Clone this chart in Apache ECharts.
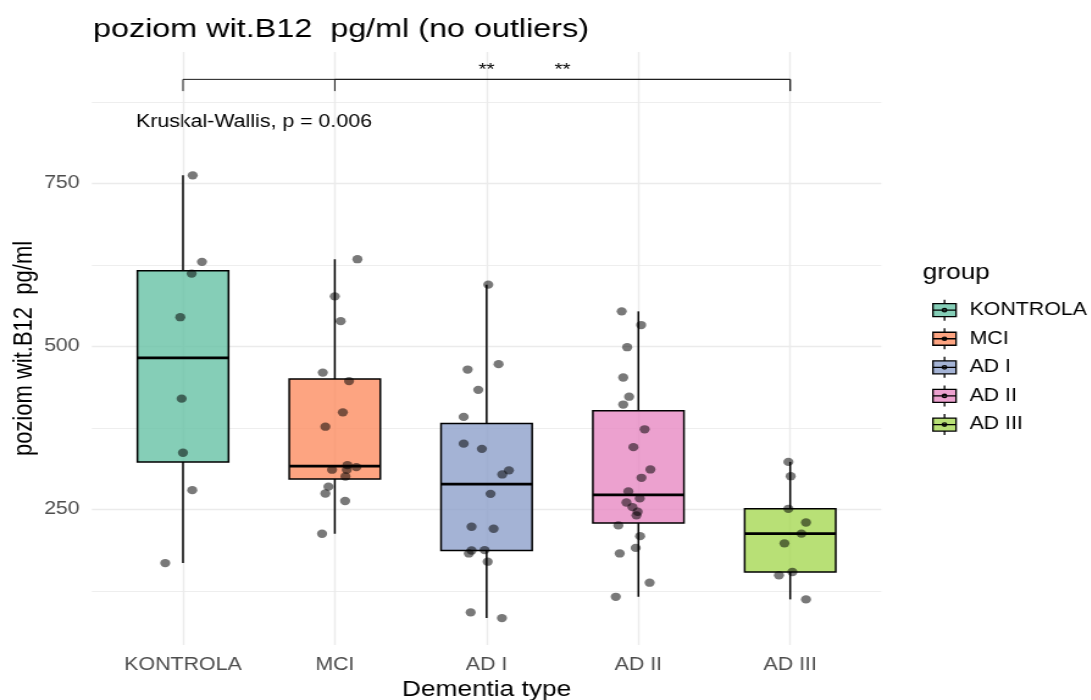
<!DOCTYPE html>
<html>
<head>
<meta charset="utf-8">
<script src="https://cdn.jsdelivr.net/npm/echarts@6/dist/echarts.min.js"></script>
<style>
  html, body { margin: 0; padding: 0; background: #fff; overflow: hidden; }
  #stage { width: 1091px; height: 700px; overflow: hidden; }
  #chart { height: 700px; transform-origin: 0 0; }
</style>
</head>
<body>
<div id="stage"><div id="chart"></div></div>
<script>
// ---- data -------------------------------------------------------------
const categories = ['KONTROLA', 'MCI', 'AD I', 'AD II', 'AD III'];
const groupColors = ['#66C2A5', '#FC8D62', '#8DA0CB', '#E78AC3', '#A6D854'];

// vitamin B12 levels (pg/ml) per group, with the horizontal jitter of each dot
const kontrolaValues = [762.7, 630, 612, 545, 420, 337, 279.6, 167.7];
const kontrolaJitter = [0.064, 0.125, 0.057, -0.018, -0.009, 0, 0.061, -0.117];

const mciValues = [634, 577, 539, 460, 447, 399, 377, 318, 315, 311, 311, 300.6, 285, 274.5, 263, 212.7];
const mciJitter = [0.149, 0, 0.039, -0.079, 0.094, 0.053, -0.062, 0.083, 0.142, -0.018, 0.079, 0.07, -0.042, -0.062, 0.068, -0.084];

const ad1Values = [595, 473, 464.7, 433.6, 392, 351, 343, 310, 303.7, 274, 223.5, 220.4, 187, 182.5, 187.6, 169.8, 92, 83.3];
const ad1Jitter = [0.011, 0.079, -0.125, -0.055, -0.151, -0.151, -0.031, 0.147, 0.103, 0.026, -0.099, 0.046, -0.099, -0.117, -0.013, 0.007, -0.105, 0.101];

const ad2Values = [554, 533, 499, 452.5, 423, 411, 373, 345.6, 311.4, 298.6, 277.6, 267, 260.7, 253.5, 246.5, 241, 225.5, 209, 191, 182.5, 137.6, 116];
const ad2Jitter = [-0.11, 0.018, -0.074, -0.1, -0.061, -0.1, 0.041, -0.033, 0.079, 0.02, -0.066, 0.009, -0.079, -0.039, -0.005, -0.013, -0.132, 0.011, -0.018, -0.123, 0.074, -0.149];

const ad3Values = [323, 301, 251, 230, 213, 198, 154, 149, 112];
const ad3Jitter = [-0.012, 0.003, -0.012, 0.104, 0.074, -0.038, 0.014, -0.074, 0.104];

const groupValues = [kontrolaValues, mciValues, ad1Values, ad2Values, ad3Values];
const groupJitter = [kontrolaJitter, mciJitter, ad1Jitter, ad2Jitter, ad3Jitter];

// y-axis ticks and gridlines
const yTickValues = [250, 500, 750];
const yMinorValues = [125, 375, 625, 875];

// pairwise comparisons drawn as brackets, and the global test
const comparisons = [['KONTROLA', 'AD III'], ['MCI', 'AD III']];
const comparisonLabels = ['**', '**'];
const kruskalLabel = 'Kruskal-Wallis, p = 0.006';
const BRACKET_Y = 910;

// ---- layout -------------------------------------------------------------
const STRETCH = 1.22;                 // figure is drawn narrow, then widened
const CW = 1091 / STRETCH;
const sx = v => v / STRETCH;          // horizontal page px -> drawing px
const FONT = '"Liberation Sans", Arial, Helvetica, sans-serif';
const BOX_HALF = 0.3;
const LW = 1.5;
const BRACKET_DROP = 18;

const el = document.getElementById('chart');
el.style.width = CW + 'px';
el.style.transform = 'scaleX(' + STRETCH + ')';

// ---- statistics ---------------------------------------------------------
function quantile(sorted, p) {
  const h = (sorted.length - 1) * p;
  const lo = Math.floor(h), hi = Math.ceil(h);
  return sorted[lo] + (h - lo) * (sorted[hi] - sorted[lo]);
}
function boxStats(values) {
  const s = values.slice().sort((a, b) => a - b);
  const q1 = quantile(s, 0.25), med = quantile(s, 0.5), q3 = quantile(s, 0.75);
  const iqr = q3 - q1;
  const inside = s.filter(v => v >= q1 - 1.5 * iqr && v <= q3 + 1.5 * iqr);
  return [inside[0], q1, med, q3, inside[inside.length - 1]];
}

function withAlpha(hex, a) {
  const n = parseInt(hex.slice(1), 16);
  return 'rgba(' + (n >> 16) + ',' + ((n >> 8) & 255) + ',' + (n & 255) + ',' + a + ')';
}

// ---- renderers ------------------------------------------------------------
function renderBox(params, api) {
  const x = api.value(0);
  const lo = api.value(1), q1 = api.value(2), md = api.value(3), q3 = api.value(4), hi = api.value(5);
  const tl = api.coord([x - BOX_HALF, q3]);
  const br = api.coord([x + BOX_HALF, q1]);
  const mid = api.coord([x, md]);
  const top = api.coord([x, hi]);
  const bot = api.coord([x, lo]);
  const ink = { stroke: '#000', lineWidth: LW };
  return {
    type: 'group',
    children: [
      { type: 'line', shape: { x1: top[0], y1: top[1], x2: top[0], y2: tl[1] }, style: ink },
      { type: 'line', shape: { x1: bot[0], y1: br[1], x2: bot[0], y2: bot[1] }, style: ink },
      { type: 'rect', shape: { x: tl[0], y: tl[1], width: br[0] - tl[0], height: br[1] - tl[1] },
        style: { fill: api.visual('color'), stroke: '#000', lineWidth: LW } },
      { type: 'line', shape: { x1: tl[0], y1: mid[1], x2: br[0], y2: mid[1] },
        style: { stroke: '#000', lineWidth: 2.8 } }
    ]
  };
}

function renderBracket(params, api) {
  const x1 = api.value(0), x2 = api.value(1), y = api.value(2);
  const a = api.coord([x1, y]);
  const b = api.coord([x2, y]);
  const aDrop = api.coord([x1, y - BRACKET_DROP]);
  const ink = { stroke: '#1a1a1a', lineWidth: 1 };
  return {
    type: 'group',
    children: [
      { type: 'polyline', shape: { points: [[a[0], aDrop[1]], a, b, [b[0], aDrop[1]]] }, style: Object.assign({ fill: null }, ink) },
      { type: 'text', x: (a[0] + b[0]) / 2, y: a[1] - 1,
        style: { text: comparisonLabels[params.dataIndex], align: 'center', verticalAlign: 'bottom',
                 fontSize: 17, fontFamily: FONT, fill: '#000' } }
    ]
  };
}

// ---- series -----------------------------------------------------------
const series = [];
categories.forEach((name, i) => {
  series.push({
    type: 'custom',
    name: name,
    renderItem: renderBox,
    itemStyle: { color: withAlpha(groupColors[i], 0.8) },
    encode: { x: 0, y: [1, 2, 3, 4, 5] },
    data: [[i + 1].concat(boxStats(groupValues[i]))],
    z: 2,
    silent: true
  });
});

const points = [];
groupValues.forEach((vals, i) => {
  vals.forEach((v, j) => points.push([i + 1 + groupJitter[i][j], v]));
});
series.push({
  type: 'scatter',
  name: 'points',
  data: points,
  symbol: 'circle',
  symbolSize: 8.3,
  itemStyle: { color: 'rgba(0,0,0,0.66)' },
  z: 3,
  silent: true
});

series.push({
  type: 'custom',
  name: 'comparisons',
  renderItem: renderBracket,
  encode: { x: [0, 1], y: 2 },
  data: comparisons.map(c => [categories.indexOf(c[0]) + 1, categories.indexOf(c[1]) + 1, BRACKET_Y]),
  z: 4,
  silent: true
});

// legend key: small boxplot glyph
const LEGEND_ICON = 'path://M1,4H20V17H1Z M1,10.5H20 M10.5,0V4 M10.5,17V21 M12.2,10.5A1.7,1.7 0 1 1 8.8,10.5A1.7,1.7 0 1 1 12.2,10.5Z';

const gridLeft = sx(91.9), gridRight = CW - sx(881.6);

const option = {
  animation: false,
  backgroundColor: '#fff',
  textStyle: { fontFamily: FONT },
  title: {
    text: 'poziom wit.B12  pg/ml (no outliers)',
    left: sx(93), top: 16,
    padding: 0,
    textStyle: { fontSize: 26.5, fontWeight: 'normal', color: '#000', fontFamily: FONT }
  },
  grid: { left: gridLeft, right: gridRight, top: 52, bottom: 55, outerBoundsMode: 'none', containLabel: false },
  xAxis: {
    type: 'value', min: 0.4, max: 5.6,
    name: 'Dementia type', nameLocation: 'middle', nameGap: 34,
    nameTextStyle: { fontSize: 21.5, color: '#000', fontFamily: FONT },
    axisLine: { show: false },
    axisTick: { show: false, customValues: [1, 2, 3, 4, 5] },
    axisLabel: {
      customValues: [1, 2, 3, 4, 5],
      formatter: v => categories[Math.round(v) - 1],
      margin: 11, fontSize: 17.5, color: '#4D4D4D', fontFamily: FONT
    },
    splitLine: { show: true, lineStyle: { color: '#EBEBEB', width: 1.4 } }
  },
  yAxis: [
    {
      type: 'value', min: 42, max: 952,
      name: 'poziom wit.B12  pg/ml', nameLocation: 'middle', nameGap: 44,
      nameMoveOverlap: false,
      nameTextStyle: { fontSize: 22, color: '#000', fontFamily: FONT },
      axisLine: { show: false },
      axisTick: { show: false, customValues: yTickValues },
      axisLabel: { customValues: yTickValues, margin: 10, fontSize: 17.5, color: '#4D4D4D', fontFamily: FONT },
      splitLine: { show: true, lineStyle: { color: '#EBEBEB', width: 1.4 } }
    },
    {
      type: 'value', min: 42, max: 952,
      axisLine: { show: false },
      axisTick: { show: false, customValues: yMinorValues },
      axisLabel: { show: false },
      splitLine: { show: true, lineStyle: { color: '#EEEEEE', width: 1.0 } }
    }
  ],
  legend: {
    orient: 'vertical',
    left: sx(926), top: 294,
    itemWidth: 21, itemHeight: 21, itemGap: 6.3,
    selectedMode: false,
    data: categories.map(n => ({ name: n, icon: LEGEND_ICON })),
    itemStyle: { borderColor: '#000', borderWidth: 1.3 },
    textStyle: { fontSize: 17.5, color: '#000', fontFamily: FONT, padding: [0, 0, 0, 5] }
  },
  graphic: [
    { type: 'text', left: sx(922.7), top: 262,
      style: { text: 'group', fontSize: 21.5, fill: '#000', fontFamily: FONT } },
    { type: 'text', left: sx(136), top: 113,
      style: { text: kruskalLabel, fontSize: 17.5, fill: '#000', fontFamily: FONT } }
  ],
  series: series
};

const chart = echarts.init(el, null, { renderer: 'canvas' });
chart.setOption(option);
</script>
</body>
</html>
